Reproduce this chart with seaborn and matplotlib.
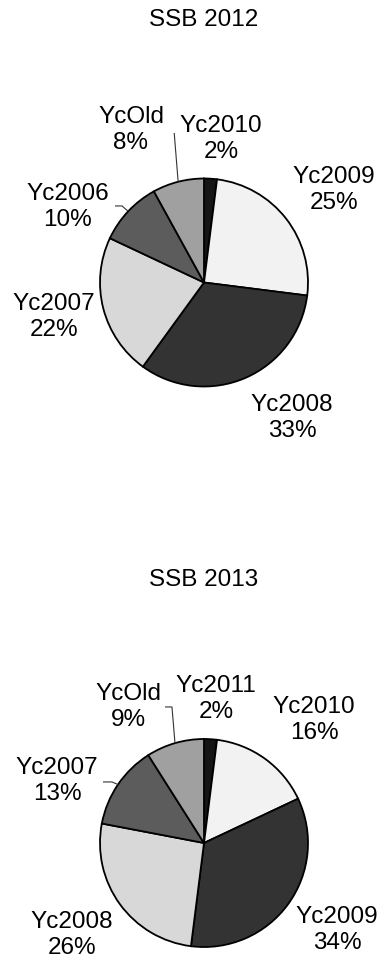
import numpy as np
import matplotlib
matplotlib.use("Agg")
import matplotlib.pyplot as plt
import seaborn as sns

sns.set_theme(style="white")
plt.rcParams["font.family"] = ["Liberation Sans", "DejaVu Sans"]

# Spawning stock biomass shares by year class
labels_2012 = ["Yc2010", "Yc2009", "Yc2008", "Yc2007", "Yc2006", "YcOld"]
shares_2012 = [2, 25, 33, 22, 10, 8]
labels_2013 = ["Yc2011", "Yc2010", "Yc2009", "Yc2008", "Yc2007", "YcOld"]
shares_2013 = [2, 16, 34, 26, 13, 9]
titles = ["SSB 2012", "SSB 2013"]

# grey shades, youngest year class first
shades = ["#151515", "#f2f2f2", "#333333", "#d8d8d8", "#5c5c5c", "#a0a0a0"]

W, H, DPI = 382, 979, 100
R_PX = 104.0
FS = 17.5

fig = plt.figure(figsize=(W / DPI, H / DPI), dpi=DPI)
fig.patch.set_facecolor("white")

panels = [
    dict(labels=labels_2012, shares=shares_2012, title=titles[0], cx=204.0, cy=283.5, ty=20.0,
         label_xy=[(0.163, 1.389), (1.25, 0.899), (0.846, -1.293),
                   (-1.442, -0.322), (-1.308, 0.736), (-0.702, 1.476)],
         leaders={5: [(-0.346, 1.457), (-0.288, 1.457)],
                  4: [(-0.856, 0.736), (-0.788, 0.736)]}),
    dict(labels=labels_2013, shares=shares_2013, title=titles[1], cx=204.0, cy=844.0, ty=580.0,
         label_xy=[(0.115, 1.394), (1.058, 1.192), (1.279, -0.827),
                   (-1.269, -0.875), (-1.413, 0.606), (-0.731, 1.317)],
         leaders={5: [(-0.375, 1.308), (-0.308, 1.308)],
                  4: [(-0.971, 0.587), (-0.885, 0.587)]}),
]

half_h = 150.0
for p in panels:
    bottom_px = H - p["cy"] - half_h
    ax = fig.add_axes([0, bottom_px / H, 1, 2 * half_h / H])
    ax.set_xlim(-p["cx"] / R_PX, (W - p["cx"]) / R_PX)
    ax.set_ylim(-half_h / R_PX, half_h / R_PX)
    ax.set_axis_off()

    wedges, _ = ax.pie(p["shares"], colors=shades, startangle=90, counterclock=False,
                       radius=1.0, center=(0, 0), frame=True,
                       wedgeprops=dict(edgecolor="black", linewidth=1.3))
    ax.set_xlim(-p["cx"] / R_PX, (W - p["cx"]) / R_PX)
    ax.set_ylim(-half_h / R_PX, half_h / R_PX)
    ax.set_aspect("auto")
    ax.set_axis_off()

    for i, (lab, val) in enumerate(zip(p["labels"], p["shares"])):
        x, y = p["label_xy"][i]
        ax.text(x, y, f"{lab}\n{val}%", ha="center", va="center",
                fontsize=FS, color="black", linespacing=1.2)

    # leader lines from label to wedge rim
    for i, pts in p["leaders"].items():
        w = wedges[i]
        mid = np.deg2rad((w.theta1 + w.theta2) / 2)
        xs = [pts[0][0], pts[1][0], np.cos(mid)]
        ys = [pts[0][1], pts[1][1], np.sin(mid)]
        ax.plot(xs, ys, color="#333333", lw=0.8, solid_capstyle="butt")

    fig.text(p["cx"] / W, 1 - p["ty"] / H, p["title"], ha="center", va="center",
             fontsize=FS, color="black")

fig.savefig("out.png", dpi=DPI, facecolor="white")
